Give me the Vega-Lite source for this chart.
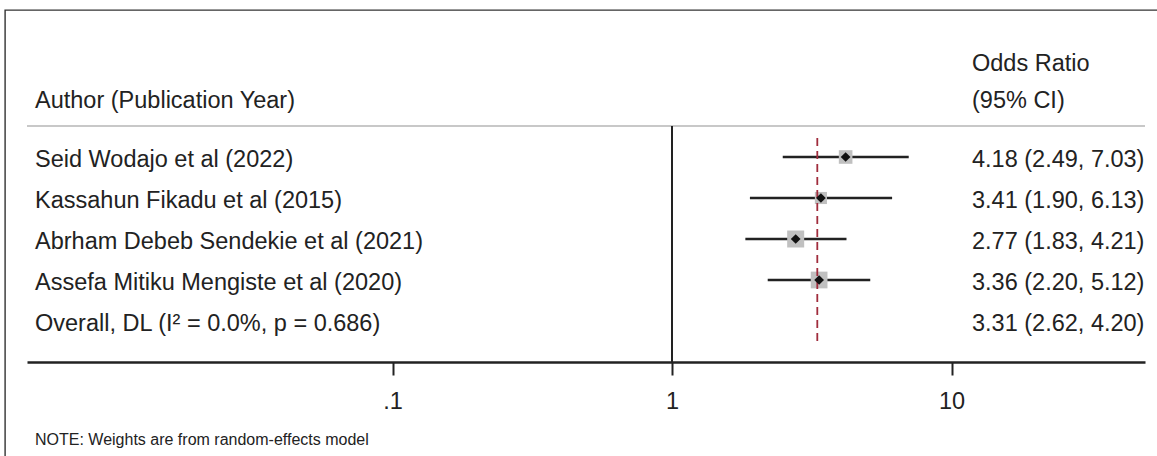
{
  "$schema": "https://vega.github.io/schema/vega-lite/v6.json",
  "width": 1156,
  "height": 447,
  "autosize": {"type": "none"},
  "padding": {"left": 5, "top": 10, "right": 0, "bottom": 0},
  "background": "white",
  "config": {
    "view": {"stroke": "#333333", "strokeWidth": 1.4},
    "text": {"font": "Liberation Sans", "fontSize": 23.5, "color": "#222222"}
  },
  "datasets": {
    "rows": [
      {"author": "Seid Wodajo et al (2022)", "row": 1, "or": 4.18, "lo": 2.49, "hi": 7.03, "weight": 20.6, "ci": "4.18 (2.49, 7.03)", "kind": "study"},
      {"author": "Kassahun Fikadu et al (2015)", "row": 2, "or": 3.41, "lo": 1.90, "hi": 6.13, "weight": 16.3, "ci": "3.41 (1.90, 6.13)", "kind": "study"},
      {"author": "Abrham Debeb Sendekie et al (2021)", "row": 3, "or": 2.77, "lo": 1.83, "hi": 4.21, "weight": 32.1, "ci": "2.77 (1.83, 4.21)", "kind": "study"},
      {"author": "Assefa Mitiku Mengiste et al (2020)", "row": 4, "or": 3.36, "lo": 2.20, "hi": 5.12, "weight": 31.1, "ci": "3.36 (2.20, 5.12)", "kind": "study"},
      {"author": "Overall, DL (I² = 0.0%, p = 0.686)", "row": 5, "or": 3.31, "lo": 2.62, "hi": 4.20, "ci": "3.31 (2.62, 4.20)", "kind": "overall"}
    ],
    "reference": [{"or": 1}],
    "headers": [
      {"text": "Author (Publication Year)", "part": "author"},
      {"text": "Odds Ratio", "part": "ci1"},
      {"text": "(95% CI)", "part": "ci2"}
    ],
    "note": [{"text": "NOTE: Weights are from random-effects model"}]
  },
  "layer": [
    {
      "data": {"name": "reference"},
      "mark": {"type": "rule", "color": "#c8c8c8", "strokeWidth": 2},
      "encoding": {
        "x": {"datum": 0.0049234, "type": "quantitative", "scale": {"type": "log", "domain": [0.0049234, 49.237], "range": [22, 1140], "nice": false}},
        "x2": {"datum": 49.237},
        "y": {"datum": 0.244, "type": "quantitative", "scale": {"domain": [-2.5854, 8.3171], "reverse": true, "nice": false, "zero": false}, "axis": null}
      }
    },
    {
      "data": {"name": "reference"},
      "mark": {"type": "rule", "color": "#222222", "strokeWidth": 2},
      "encoding": {
        "x": {"field": "or", "type": "quantitative", "scale": {"type": "log", "domain": [0.0049234, 49.237], "range": [22, 1140], "nice": false}},
        "y": {"datum": 0.244, "type": "quantitative", "scale": {"domain": [-2.5854, 8.3171], "reverse": true, "nice": false, "zero": false}, "axis": null},
        "y2": {"datum": 6.0}
      }
    },
    {
      "data": {"name": "rows"},
      "transform": [{"filter": "datum.kind == 'study'"}],
      "mark": {"type": "rule", "color": "#222222", "strokeWidth": 2.3},
      "encoding": {
        "x": {"field": "lo", "type": "quantitative", "scale": {"type": "log", "domain": [0.0049234, 49.237], "range": [22, 1140], "nice": false},
          "axis": {"values": [0.1, 1, 10], "labelExpr": "datum.value < 0.5 ? '.1' : datum.value < 5 ? '1' : '10'", "title": null, "grid": false, "offset": -95, "tickSize": 13, "tickWidth": 2, "tickColor": "#222222", "domainColor": "#222222", "domainWidth": 2.5, "labelFont": "Liberation Sans", "labelFontSize": 23.5, "labelColor": "#222222", "labelPadding": 14, "labelFlush": false, "labelOverlap": false}},
        "x2": {"field": "hi"},
        "y": {"field": "row", "type": "quantitative", "scale": {"domain": [-2.5854, 8.3171], "reverse": true, "nice": false, "zero": false}, "axis": null}
      }
    },
    {
      "data": {"name": "rows"},
      "transform": [{"filter": "datum.kind == 'study'"}],
      "mark": {"type": "point", "shape": "square", "filled": true, "color": "#c0c0c0", "opacity": 1},
      "encoding": {
        "x": {"field": "or", "type": "quantitative", "scale": {"type": "log", "domain": [0.0049234, 49.237], "range": [22, 1140], "nice": false}},
        "y": {"field": "row", "type": "quantitative", "scale": {"domain": [-2.5854, 8.3171], "reverse": true, "nice": false, "zero": false}, "axis": null},
        "size": {"field": "weight", "type": "quantitative", "scale": {"domain": [0, 32.1], "range": [0, 289]}, "legend": null}
      }
    },
    {
      "data": {"name": "rows"},
      "transform": [{"filter": "datum.kind == 'overall'"}],
      "mark": {"type": "rule", "color": "#a02c3c", "strokeWidth": 1.8, "strokeDash": [8, 5]},
      "encoding": {
        "x": {"field": "or", "type": "quantitative", "scale": {"type": "log", "domain": [0.0049234, 49.237], "range": [22, 1140], "nice": false}},
        "y": {"datum": 0.537, "type": "quantitative", "scale": {"domain": [-2.5854, 8.3171], "reverse": true, "nice": false, "zero": false}, "axis": null},
        "y2": {"datum": 5.512}
      }
    },
    {
      "data": {"name": "rows"},
      "transform": [{"filter": "datum.kind == 'study'"}],
      "mark": {"type": "point", "shape": "diamond", "filled": true, "color": "#111111", "opacity": 1, "size": 95},
      "encoding": {
        "x": {"field": "or", "type": "quantitative", "scale": {"type": "log", "domain": [0.0049234, 49.237], "range": [22, 1140], "nice": false}},
        "y": {"field": "row", "type": "quantitative", "scale": {"domain": [-2.5854, 8.3171], "reverse": true, "nice": false, "zero": false}, "axis": null}
      }
    },
    {
      "data": {"name": "rows"},
      "mark": {"type": "text", "align": "left", "baseline": "middle", "dy": 3},
      "encoding": {
        "x": {"datum": 0.005259, "type": "quantitative", "scale": {"type": "log", "domain": [0.0049234, 49.237], "range": [22, 1140], "nice": false}},
        "y": {"field": "row", "type": "quantitative", "scale": {"domain": [-2.5854, 8.3171], "reverse": true, "nice": false, "zero": false}, "axis": null},
        "text": {"field": "author"}
      }
    },
    {
      "data": {"name": "rows"},
      "mark": {"type": "text", "align": "left", "baseline": "middle", "dy": 3},
      "encoding": {
        "x": {"datum": 11.838, "type": "quantitative", "scale": {"type": "log", "domain": [0.0049234, 49.237], "range": [22, 1140], "nice": false}},
        "y": {"field": "row", "type": "quantitative", "scale": {"domain": [-2.5854, 8.3171], "reverse": true, "nice": false, "zero": false}, "axis": null},
        "text": {"field": "ci"}
      }
    },
    {
      "data": {"name": "headers"},
      "transform": [{"filter": "datum.part == 'author'"}],
      "mark": {"type": "text", "align": "left", "baseline": "middle", "dy": 3},
      "encoding": {
        "x": {"datum": 0.005259, "type": "quantitative", "scale": {"type": "log", "domain": [0.0049234, 49.237], "range": [22, 1140], "nice": false}},
        "y": {"datum": -0.439, "type": "quantitative", "scale": {"domain": [-2.5854, 8.3171], "reverse": true, "nice": false, "zero": false}, "axis": null},
        "text": {"field": "text"}
      }
    },
    {
      "data": {"name": "headers"},
      "transform": [{"filter": "datum.part == 'ci1'"}],
      "mark": {"type": "text", "align": "left", "baseline": "middle", "dy": 3},
      "encoding": {
        "x": {"datum": 11.838, "type": "quantitative", "scale": {"type": "log", "domain": [0.0049234, 49.237], "range": [22, 1140], "nice": false}},
        "y": {"datum": -1.341, "type": "quantitative", "scale": {"domain": [-2.5854, 8.3171], "reverse": true, "nice": false, "zero": false}, "axis": null},
        "text": {"field": "text"}
      }
    },
    {
      "data": {"name": "headers"},
      "transform": [{"filter": "datum.part == 'ci2'"}],
      "mark": {"type": "text", "align": "left", "baseline": "middle", "dy": 3},
      "encoding": {
        "x": {"datum": 11.838, "type": "quantitative", "scale": {"type": "log", "domain": [0.0049234, 49.237], "range": [22, 1140], "nice": false}},
        "y": {"datum": -0.439, "type": "quantitative", "scale": {"domain": [-2.5854, 8.3171], "reverse": true, "nice": false, "zero": false}, "axis": null},
        "text": {"field": "text"}
      }
    },
    {
      "data": {"name": "note"},
      "mark": {"type": "text", "align": "left", "baseline": "middle", "dy": 3, "fontSize": 16},
      "encoding": {
        "x": {"datum": 0.005259, "type": "quantitative", "scale": {"type": "log", "domain": [0.0049234, 49.237], "range": [22, 1140], "nice": false}},
        "y": {"datum": 7.829, "type": "quantitative", "scale": {"domain": [-2.5854, 8.3171], "reverse": true, "nice": false, "zero": false}, "axis": null},
        "text": {"field": "text"}
      }
    }
  ]
}
